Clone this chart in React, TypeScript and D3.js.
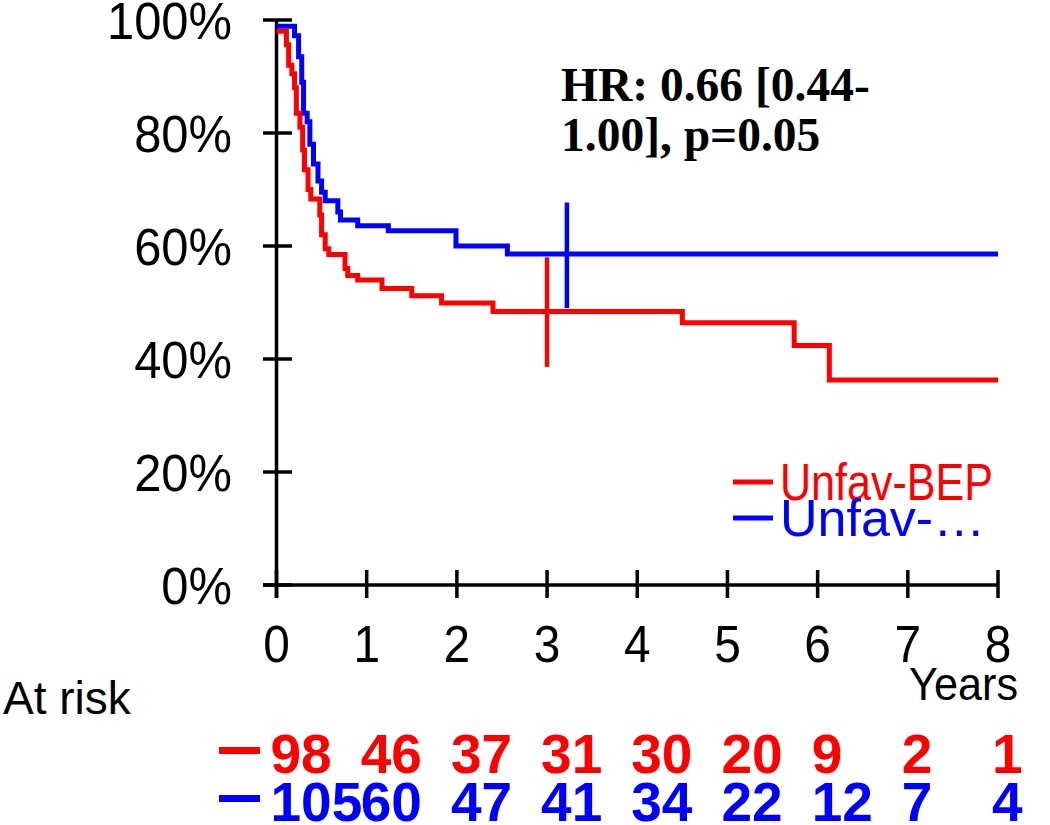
import { useMemo } from 'react';
import * as d3 from 'd3';

// Kaplan-Meier steps: [years, survival]
const bepSteps: [number, number][] = [
  [0, 0.98], [0.11, 0.956], [0.135, 0.92], [0.17, 0.905], [0.2, 0.88],
  [0.22, 0.835], [0.26, 0.81], [0.29, 0.77], [0.31, 0.735], [0.35, 0.7],
  [0.38, 0.683], [0.48, 0.655], [0.5, 0.62], [0.54, 0.595], [0.58, 0.585],
  [0.76, 0.56], [0.79, 0.548], [0.9, 0.54], [1.17, 0.525], [1.5, 0.512],
  [1.83, 0.499], [2.4, 0.484], [4.5, 0.464], [5.74, 0.424], [6.13, 0.363],
  [8, 0.363],
];

const otherSteps: [number, number][] = [
  [0, 0.989], [0.2, 0.972], [0.245, 0.935], [0.28, 0.89], [0.3, 0.835],
  [0.34, 0.82], [0.37, 0.78], [0.41, 0.745], [0.46, 0.715], [0.5, 0.695],
  [0.54, 0.68], [0.68, 0.66], [0.71, 0.646], [0.9, 0.636], [1.24, 0.627],
  [1.99, 0.6], [2.56, 0.586], [8, 0.586],
];

// vertical bars at 3 years: [time, low, high]
const bepBar: [number, number, number] = [3.0, 0.386, 0.58];
const otherBar: [number, number, number] = [3.22, 0.49, 0.677];

const yearTicks = [0, 1, 2, 3, 4, 5, 6, 7, 8];
const pctTicks = [0, 0.2, 0.4, 0.6, 0.8, 1];
const bepAtRisk = ['98', '46', '37', '31', '30', '20', '9', '2', '1'];
const otherAtRisk = ['105', '60', '47', '41', '34', '22', '12', '7', '4'];

const legendLabels = ['Unfav-BEP', 'Unfav-…'];
const hrLines = ['HR: 0.66 [0.44-', '1.00], p=0.05'];

const RED = '#ff0000';
const BLUE = '#0000ff';
const SANS = 'Arial, "Liberation Sans", sans-serif';

export default function App() {
  const x = d3.scaleLinear().domain([0, 8]).range([276.5, 998]);
  const y = d3.scaleLinear().domain([0, 1]).range([585, 20]);

  const line = useMemo(
    () =>
      d3
        .line<[number, number]>()
        .x((d) => x(d[0]))
        .y((d) => y(d[1]))
        .curve(d3.curveStepAfter),
    [x, y]
  );

  return (
    <svg
      width={1050}
      height={825}
      style={{ position: 'absolute', left: 0, top: 0, background: '#fff' }}
    >
      {/* axes */}
      <g stroke="#000" strokeWidth={3.5}>
        <line x1={x(0)} x2={x(0)} y1={y(1)} y2={598} />
        <line x1={263} x2={x(8)} y1={y(0)} y2={y(0)} />
        {pctTicks.map((p) => (
          <line key={p} x1={263} x2={292} y1={y(p)} y2={y(p)} />
        ))}
        {yearTicks.map((t) => (
          <line key={t} x1={x(t)} x2={x(t)} y1={570} y2={598} />
        ))}
      </g>

      {/* tick labels, slightly tall like the original */}
      <g fontFamily={SANS} fontSize={52} fill="#000">
        {pctTicks.map((p) => (
          <text key={p} transform={`translate(232,${y(p) + 19}) scale(0.94,1)`} textAnchor="end">
            {d3.format('.0%')(p)}
          </text>
        ))}
        {yearTicks.map((t) => (
          <text key={t} transform={`translate(${x(t)},662) scale(0.92,1)`} textAnchor="middle">
            {t}
          </text>
        ))}
        <text transform="translate(1018,700) scale(0.92,1)" textAnchor="end" fontSize={47}>
          Years
        </text>
        <text x={3} y={714} fontSize={46}>At risk</text>
      </g>

      {/* curves */}
      <path d={line(otherSteps) ?? ''} fill="none" stroke={BLUE} strokeWidth={5} />
      <path d={line(bepSteps) ?? ''} fill="none" stroke={RED} strokeWidth={5} />

      <line x1={x(bepBar[0])} x2={x(bepBar[0])} y1={y(bepBar[1])} y2={y(bepBar[2])}
        stroke={RED} strokeWidth={4.5} />
      <line x1={x(otherBar[0])} x2={x(otherBar[0])} y1={y(otherBar[1])} y2={y(otherBar[2])}
        stroke={BLUE} strokeWidth={4.5} />

      {/* HR annotation */}
      <g fontFamily='"Liberation Serif", "Times New Roman", serif' fontWeight="bold" fontSize={47.5}>
        {hrLines.map((s, i) => (
          <text key={i} x={561} y={101 + i * 50}>{s}</text>
        ))}
      </g>

      {/* legend */}
      <g fontFamily={SANS} fontSize={52}>
        {legendLabels.map((s, i) => {
          const c = i === 0 ? RED : BLUE;
          const cy = 482 + i * 36;
          return (
            <g key={s}>
              <line x1={733} x2={773} y1={cy} y2={cy} stroke={c} strokeWidth={5} />
              <text
                x={780}
                y={cy + 18}
                fill={c}
                textLength={i === 0 ? 213 : undefined}
                lengthAdjust={i === 0 ? 'spacingAndGlyphs' : undefined}
              >
                {s}
              </text>
            </g>
          );
        })}
      </g>

      {/* numbers at risk */}
      <g fontFamily={SANS} fontWeight="bold" fontSize={55}>
        {[bepAtRisk, otherAtRisk].map((row, r) => {
          const c = r === 0 ? RED : BLUE;
          const base = r === 0 ? 773 : 821;
          return (
            <g key={r} fill={c}>
              <rect x={219} y={base - 26} width={41} height={7} />
              {row.map((n, i) => (
                <text key={i} x={x(yearTicks[i]) - 6} y={base}>{n}</text>
              ))}
            </g>
          );
        })}
      </g>
    </svg>
  );
}
